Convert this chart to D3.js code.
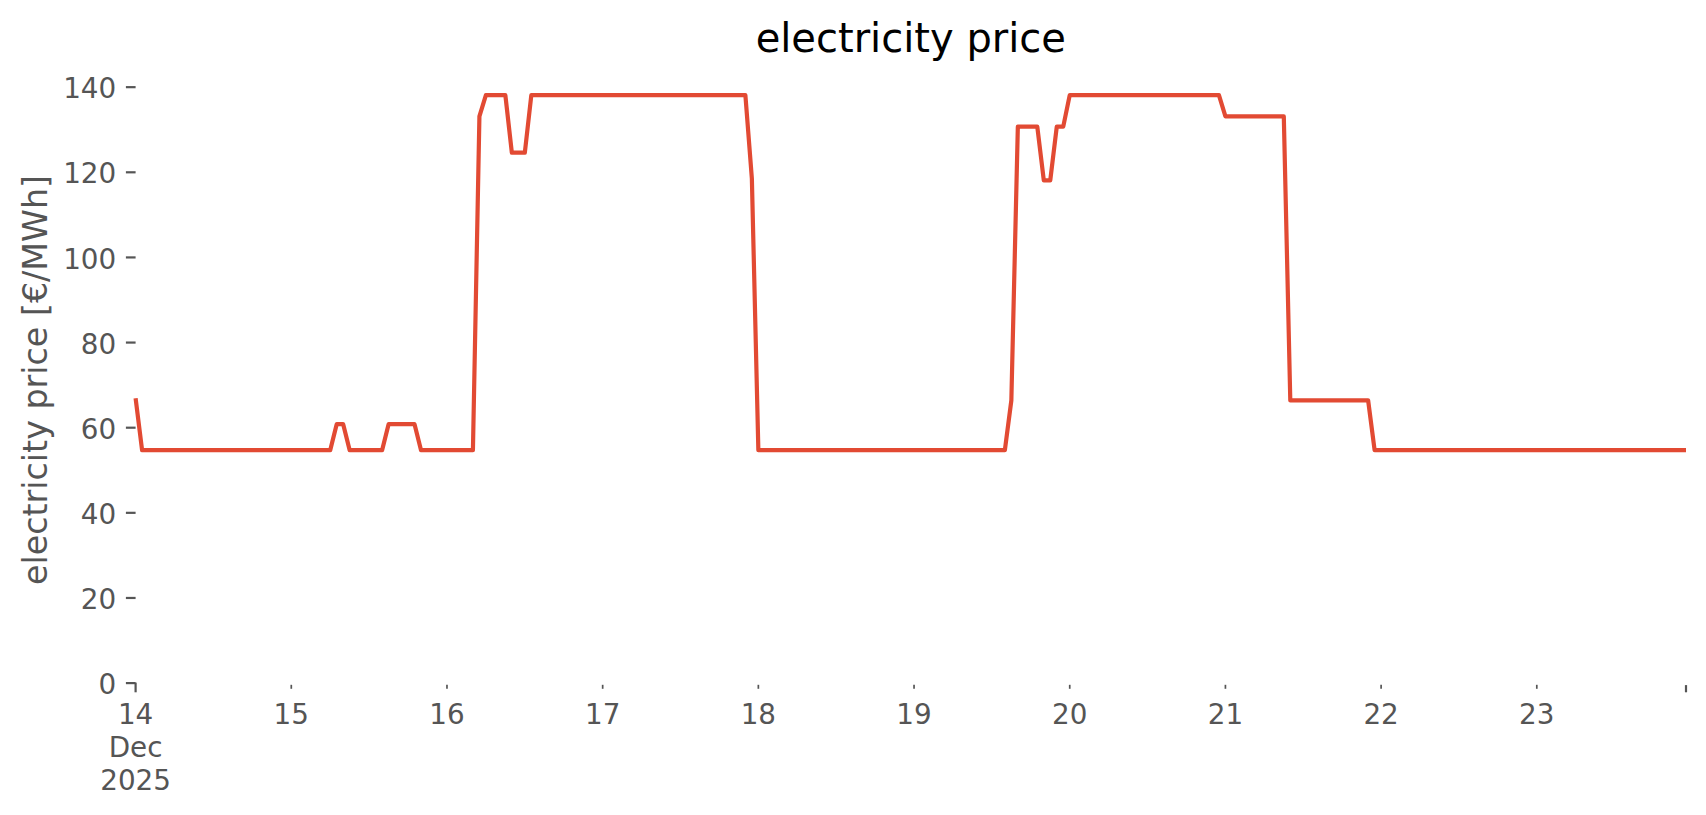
<!DOCTYPE html>
<html>
<head>
<meta charset="utf-8">
<title>electricity price</title>
<script src="https://cdn.jsdelivr.net/npm/d3@7"></script>
<style>
body { margin: 0; background: #fff; }
svg text { font-family: 'DejaVu Sans', sans-serif; }
</style>
</head>
<body>
<script>

// hourly series, first point 14 Dec 2025 00:00
var startTime = new Date(Date.UTC(2025, 11, 14, 0));

// electricity price [EUR/MWh], one row = 12 hours
var prices = [
  // 14 Dec
  66.8, 54.6, 54.6, 54.6, 54.6, 54.6, 54.6, 54.6, 54.6, 54.6, 54.6, 54.6,
  54.6, 54.6, 54.6, 54.6, 54.6, 54.6, 54.6, 54.6, 54.6, 54.6, 54.6, 54.6,
  // 15 Dec
  54.6, 54.6, 54.6, 54.6, 54.6, 54.6, 54.6, 60.7, 60.7, 54.6, 54.6, 54.6,
  54.6, 54.6, 54.6, 60.7, 60.7, 60.7, 60.7, 60.7, 54.6, 54.6, 54.6, 54.6,
  // 16 Dec
  54.6, 54.6, 54.6, 54.6, 54.6, 133, 138, 138, 138, 138, 124.5, 124.5,
  124.5, 138, 138, 138, 138, 138, 138, 138, 138, 138, 138, 138,
  // 17 Dec
  138, 138, 138, 138, 138, 138, 138, 138, 138, 138, 138, 138,
  138, 138, 138, 138, 138, 138, 138, 138, 138, 138, 138, 118.4,
  // 18 Dec
  54.6, 54.6, 54.6, 54.6, 54.6, 54.6, 54.6, 54.6, 54.6, 54.6, 54.6, 54.6,
  54.6, 54.6, 54.6, 54.6, 54.6, 54.6, 54.6, 54.6, 54.6, 54.6, 54.6, 54.6,
  // 19 Dec
  54.6, 54.6, 54.6, 54.6, 54.6, 54.6, 54.6, 54.6, 54.6, 54.6, 54.6, 54.6,
  54.6, 54.6, 54.6, 66.3, 130.6, 130.6, 130.6, 130.6, 118, 118, 130.6, 130.6,
  // 20 Dec
  138, 138, 138, 138, 138, 138, 138, 138, 138, 138, 138, 138,
  138, 138, 138, 138, 138, 138, 138, 138, 138, 138, 138, 138,
  // 21 Dec
  133, 133, 133, 133, 133, 133, 133, 133, 133, 133, 66.3, 66.3,
  66.3, 66.3, 66.3, 66.3, 66.3, 66.3, 66.3, 66.3, 66.3, 66.3, 66.3, 54.6,
  // 22 Dec
  54.6, 54.6, 54.6, 54.6, 54.6, 54.6, 54.6, 54.6, 54.6, 54.6, 54.6, 54.6,
  54.6, 54.6, 54.6, 54.6, 54.6, 54.6, 54.6, 54.6, 54.6, 54.6, 54.6, 54.6,
  // 23 Dec
  54.6, 54.6, 54.6, 54.6, 54.6, 54.6, 54.6, 54.6, 54.6, 54.6, 54.6, 54.6,
  54.6, 54.6, 54.6, 54.6, 54.6, 54.6, 54.6, 54.6, 54.6, 54.6, 54.6, 54.6
];

var yTicks = [0, 20, 40, 60, 80, 100, 120, 140];
var xTickLabels = [["14", "Dec", "2025"], ["15"], ["16"], ["17"], ["18"], ["19"], ["20"], ["21"], ["22"], ["23"]];

var title = "electricity price";
var yTitle = "electricity price [€/MWh]";

//Globals:
var W = 1706, H = 815;
var margin = {left: 135.6, right: 20, top: 77.3, bottom: 132.4};
var yMax = 142.2;
var grey = "#555555";
var lineColor = "#E24A33";

var endTime = d3.utcHour.offset(startTime, prices.length - 1);

var x = d3.scaleUtc()
  .domain([startTime, endTime])
  .range([margin.left, W - margin.right]);

var y = d3.scaleLinear()
  .domain([0, yMax])
  .range([H - margin.bottom, margin.top]);

var svg = d3.select("body").append("svg").attr("width", W).attr("height", H);

// y axis
var yAxis = svg.append("g")
  .attr("transform", "translate(" + margin.left + ",0)")
  .call(d3.axisLeft(y).tickValues(yTicks).tickSize(9.7).tickPadding(9.7));
yAxis.select(".domain").remove();
yAxis.selectAll("line").attr("stroke", grey).attr("stroke-width", 2.2);
yAxis.selectAll("text")
  .attr("fill", grey)
  .attr("font-size", "27.8px")
  .attr("font-family", "'DejaVu Sans', sans-serif")
  .attr("dy", "0.4em");

// x axis, one tick per day + tick at the end of the data
var dayTicks = d3.utcDay.range(startTime, endTime);
var y0 = H - margin.bottom;

var xAxis = svg.append("g").attr("class", "xaxis");
xAxis.selectAll("line.day").data(dayTicks).enter().append("line")
  .attr("class", "day")
  .attr("x1", function(d){ return x(d); })
  .attr("x2", function(d){ return x(d); })
  .attr("y1", function(d, i){ return i == 0 ? y0 : y0 + 2.2; })
  .attr("y2", function(d, i){ return i == 0 ? y0 + 9.7 : y0 + 6.2; })
  .attr("stroke", grey)
  .attr("stroke-width", function(d, i){ return i == 0 ? 2.2 : 1.7; });

xAxis.append("line")
  .attr("x1", x(endTime)).attr("x2", x(endTime))
  .attr("y1", y0 + 2.5).attr("y2", y0 + 9.7)
  .attr("stroke", grey).attr("stroke-width", 2.2);

var xLabels = xAxis.selectAll("text").data(dayTicks).enter().append("text")
  .attr("x", function(d){ return x(d); })
  .attr("y", y0 + 41.4)
  .attr("text-anchor", "middle")
  .attr("fill", grey)
  .attr("font-size", "27.8px");
xLabels.each(function(d, i){
  var t = d3.select(this);
  xTickLabels[i].forEach(function(s, k){
    t.append("tspan").attr("x", x(d)).attr("dy", k == 0 ? 0 : 32.8).text(s);
  });
});

// line
var line = d3.line()
  .x(function(d, i){ return x(d3.utcHour.offset(startTime, i)); })
  .y(function(d){ return y(d); });

svg.append("path")
  .datum(prices)
  .attr("d", line)
  .attr("fill", "none")
  .attr("stroke", lineColor)
  .attr("stroke-width", 4.2)
  .attr("stroke-linejoin", "round")
  .attr("stroke-linecap", "butt");

// titles
svg.append("text")
  .attr("x", (margin.left + W - margin.right) / 2)
  .attr("y", 52)
  .attr("text-anchor", "middle")
  .attr("font-size", "40px")
  .attr("fill", "#000")
  .text(title);

svg.append("text")
  .attr("transform", "translate(47," + (margin.top + y0) / 2 + ") rotate(-90)")
  .attr("text-anchor", "middle")
  .attr("font-size", "33.3px")
  .attr("fill", grey)
  .text(yTitle);

</script>
</body>
</html>
